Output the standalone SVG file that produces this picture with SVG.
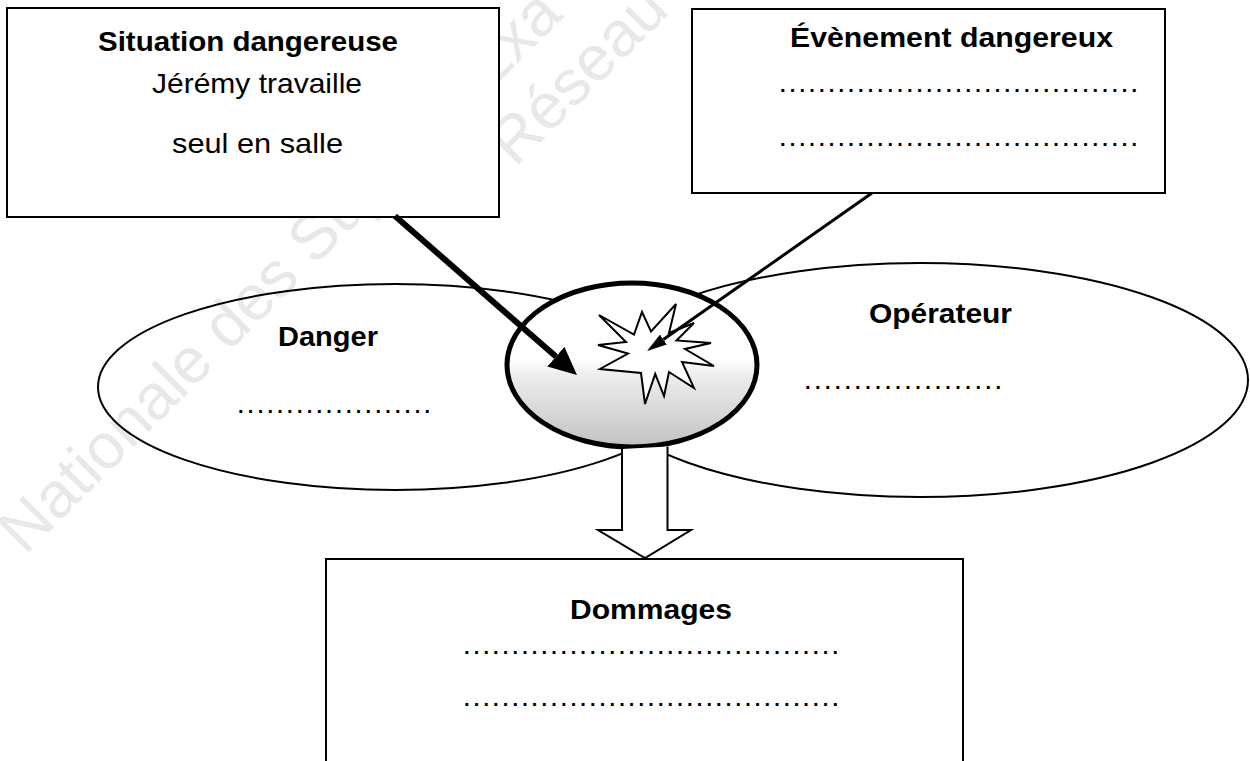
<svg xmlns="http://www.w3.org/2000/svg" width="1250" height="761" viewBox="0 0 1250 761">
  <defs>
    <style>
      .box { fill: #ffffff; stroke: #000000; stroke-width: 2; }
      .oval { fill: none; stroke: #000000; stroke-width: 2; }
      .h { font-family: "Liberation Sans", Arial, sans-serif; font-weight: bold; font-size: 28px; fill: #000000; }
      .t { font-family: "Liberation Sans", Arial, sans-serif; font-size: 28px; fill: #000000; }
      .dots { font-family: "Liberation Sans", Arial, sans-serif; font-weight: bold; font-size: 20px; fill: #000000; }
      .wm { font-family: "Liberation Sans", Arial, sans-serif; font-size: 64px; fill: #e8e8e8; }
    </style>
    <linearGradient id="shade" x1="0" y1="0" x2="0" y2="1">
      <stop offset="0" stop-color="#ffffff"/>
      <stop offset="0.46" stop-color="#ffffff"/>
      <stop offset="0.56" stop-color="#eeeeee"/>
      <stop offset="0.8" stop-color="#d6d6d6"/>
      <stop offset="1" stop-color="#c2c2c2"/>
    </linearGradient>
    <marker id="headThick" viewBox="0 0 28 26" markerWidth="28" markerHeight="26" refX="0" refY="13" markerUnits="userSpaceOnUse" orient="auto">
      <path d="M0,0 L28,13 L0,26 Z" fill="#000000"/>
    </marker>
    <marker id="headThin" viewBox="0 0 20 12" markerWidth="20" markerHeight="12" refX="0" refY="6" markerUnits="userSpaceOnUse" orient="auto">
      <path d="M0,0 L20,6 L0,12 Z" fill="#000000"/>
    </marker>
  </defs>

  <rect x="0" y="0" width="1250" height="761" fill="#ffffff"/>

  <g id="watermark">
    <text class="wm" transform="translate(25,556) rotate(-45)">Nationale des Sujets d'Exa</text>
    <text class="wm" transform="translate(515,168) rotate(-45)">Réseau</text>
  </g>

  <g id="danger">
    <ellipse class="oval" cx="395" cy="387" rx="297" ry="103"/>
    <text class="h" x="278" y="346" textLength="100" lengthAdjust="spacingAndGlyphs">Danger</text>
    <text class="dots" x="238" y="413" textLength="192" lengthAdjust="spacing">....................</text>
  </g>

  <g id="operateur">
    <ellipse class="oval" cx="920" cy="380" rx="328" ry="117"/>
    <text class="h" x="869" y="323" textLength="143" lengthAdjust="spacingAndGlyphs">Opérateur</text>
    <text class="dots" x="805" y="389" textLength="196" lengthAdjust="spacing">....................</text>
  </g>

  <g id="situation">
    <rect class="box" x="7" y="8" width="492" height="209"/>
    <text class="h" x="98" y="51" textLength="300" lengthAdjust="spacingAndGlyphs">Situation dangereuse</text>
    <text class="t" x="152" y="93" textLength="210" lengthAdjust="spacingAndGlyphs">Jérémy travaille</text>
    <text class="t" x="172" y="153" textLength="171" lengthAdjust="spacingAndGlyphs">seul en salle</text>
  </g>

  <g id="evenement">
    <rect class="box" x="692" y="9" width="473" height="184"/>
    <text class="h" x="790" y="47" textLength="323" lengthAdjust="spacingAndGlyphs">Évènement dangereux</text>
    <text class="dots" x="780" y="92" textLength="357" lengthAdjust="spacing">.....................................</text>
    <text class="dots" x="780" y="146" textLength="357" lengthAdjust="spacing">.....................................</text>
  </g>

  <g id="dommages">
    <path class="box" d="M326,775 V559 H963 V775"/>
    <text class="h" x="570" y="619" textLength="162" lengthAdjust="spacingAndGlyphs">Dommages</text>
    <text class="dots" x="464" y="654" textLength="374" lengthAdjust="spacing">.......................................</text>
    <text class="dots" x="464" y="706" textLength="374" lengthAdjust="spacing">.......................................</text>
  </g>

  <g id="accident">
    <ellipse cx="632" cy="365" rx="125" ry="82" fill="url(#shade)" stroke="#000000" stroke-width="5"/>
    <path d="M599,315 L634,334.5 L642,312 L651,331.5 L676,304 L669,333 L694,323 L676.5,340.5 L711,343 L685,349 L714,366 L682,362 L694,388 L669,372 L664,396 L655.2,374 L645,404 L641,373 L600,369 L628,353.5 L598,345 L626,342 Z" fill="#ffffff" stroke="#000000" stroke-width="2" stroke-linejoin="miter"/>
  </g>

  <g id="connectors">
    <path d="M622,449 V530 H598 L645,558 L691,530 H667.5 V446.5" fill="#ffffff" stroke="#000000" stroke-width="2" stroke-linejoin="miter"/>
    <line x1="395" y1="216" x2="555.9" y2="356.6" stroke="#000000" stroke-width="6" marker-end="url(#headThick)"/>
    <line x1="872" y1="193" x2="663.4" y2="339.5" stroke="#000000" stroke-width="3" marker-end="url(#headThin)"/>
  </g>
</svg>
